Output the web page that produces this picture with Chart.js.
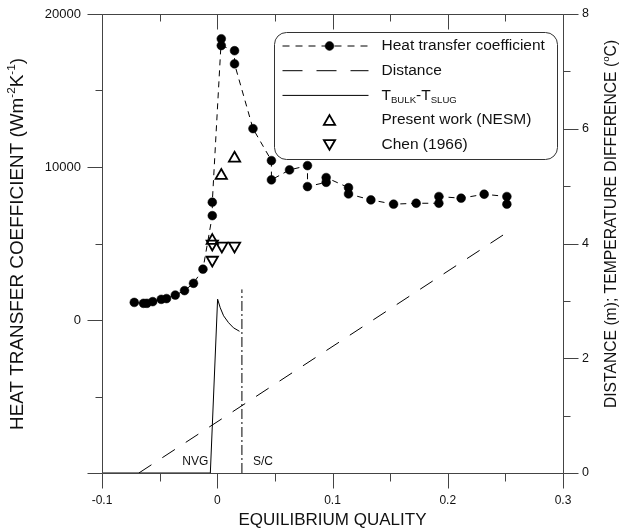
<!DOCTYPE html>
<html>
<head>
<meta charset="utf-8">
<script src="https://cdn.jsdelivr.net/npm/chart.js@4.4.0/dist/chart.umd.min.js"></script>
<style>
body { margin: 0; background: #fff; }
#wrap { width: 632px; height: 531px; }
</style>
</head>
<body>
<div id="wrap"><canvas id="chart" width="632" height="531"></canvas></div>
<script>
// ================= DATA =================
// heat transfer coefficient, in the order the dashed line joins them
const htcQuality = [-0.072, -0.064, -0.061, -0.056, -0.0486, -0.044, -0.0364, -0.0284, -0.0206, -0.0124,
                    -0.0043, -0.0043, 0.0035, 0.0035, 0.015, 0.015, 0.031, 0.047, 0.047, 0.0627,
                    0.0783, 0.0783, 0.0945, 0.0945, 0.1139, 0.1139, 0.1333, 0.153, 0.1726, 0.1923,
                    0.1923, 0.2116, 0.2316, 0.2513, 0.2513];
const htcValues = [1150, 1090, 1090, 1200, 1350, 1400, 1630, 1920, 2400, 3320,
                   6820, 7700, 18380, 17940, 17600, 16740, 12510, 10420, 9160, 9810,
                   10090, 8720, 9000, 9310, 8650, 8240, 7850, 7570, 7630, 7630,
                   8070, 7960, 8220, 8070, 7570];

const nesmQuality = [-0.0043, 0.0035, 0.015];
const nesmValues = [5190, 9440, 10570];

const chenQuality = [-0.0043, 0.004, 0.015, -0.0043];
const chenValues = [4970, 4840, 4840, 3920];

// distance along the channel (m), right axis
const distQuality = [-0.068, 0.252];
const distValues = [0, 4.2];

// T_BULK - T_SLUG (oC), right axis
const dtQuality = [-0.1, -0.006, 0.0003, 0.0026, 0.0055, 0.0098, 0.0141, 0.0193];
const dtValues = [0, 0, 3.03, 2.88, 2.74, 2.62, 2.53, 2.47];

// onset of net vapour generation and end of subcooled boiling
const nvgQuality = -0.006;
const scQuality = 0.0214;
const scLine = [0, 3.2];

// tick labels
const xTicks = [-0.1, 0, 0.1, 0.2, 0.3];
const xTickLabels = ["-0.1", "0", "0.1", "0.2", "0.3"];
const leftTicks = [0, 10000, 20000];
const leftTickLabels = ["0", "10000", "20000"];
const rightTicks = [0, 2, 4, 6, 8];
const rightTickLabels = ["0", "2", "4", "6", "8"];

// ================= HELPERS =================
const FONT = "'Liberation Sans', Arial, Helvetica, sans-serif";
Chart.defaults.font.family = FONT;

function pts(xs, ys) {
    return xs.map((x, i) => ({ x: x, y: ys[i] }));
}

function tickLabel(v, values, labels) {
    for (let i = 0; i < values.length; i++) {
        if (Math.abs(v - values[i]) < 1e-7 * Math.max(1, Math.abs(values[i]))) return labels[i];
    }
    return "";
}

// text with super/subscripts: parts = [[text, shift]], shift 1 = sup, -1 = sub
function richWidth(ctx, parts, size) {
    let w = 0;
    parts.forEach(p => {
        ctx.font = (p[1] ? size * 0.62 : size) + "px " + FONT;
        w += ctx.measureText(p[0]).width;
    });
    return w;
}
function drawRich(ctx, parts, size, x, y) {
    ctx.textBaseline = "middle";
    ctx.textAlign = "left";
    parts.forEach(p => {
        const s = p[1] ? size * 0.62 : size;
        ctx.font = s + "px " + FONT;
        const dy = p[1] === 1 ? -size * 0.33 : (p[1] === -1 ? size * 0.3 : 0);
        ctx.fillText(p[0], x, y + dy);
        x += ctx.measureText(p[0]).width;
    });
}

// ================= PLUGINS =================
const frameTicks = {
    id: "frameTicks",
    afterDraw(chart) {
        const ctx = chart.ctx, a = chart.chartArea, sc = chart.scales;
        const L = Math.round(a.left) + 0.5, R = Math.round(a.right) + 0.5;
        const T = Math.round(a.top) + 0.5, B = Math.round(a.bottom) + 0.5;
        ctx.save();
        ctx.strokeStyle = "#444";
        ctx.lineWidth = 1;
        ctx.beginPath();
        ctx.rect(L, T, R - L, B - T);
        sc.x.ticks.forEach(t => {
            const px = Math.round(sc.x.getPixelForValue(t.value)) + 0.5;
            const major = t.label !== "";
            ctx.moveTo(px, B); ctx.lineTo(px, B + (major ? 15 : 8));
            ctx.moveTo(px, T); ctx.lineTo(px, T + (major ? 15 : 7));
        });
        sc.y.ticks.forEach(t => {
            const py = Math.round(sc.y.getPixelForValue(t.value)) + 0.5;
            const major = t.value % 10000 === 0;
            ctx.moveTo(L, py); ctx.lineTo(L - (major ? 15 : 7), py);
        });
        sc.y2.ticks.forEach(t => {
            const py = Math.round(sc.y2.getPixelForValue(t.value)) + 0.5;
            const major = t.value % 2 === 0;
            ctx.moveTo(R, py); ctx.lineTo(R + (major ? 15 : 7), py);
        });
        ctx.stroke();

        // axis titles
        ctx.fillStyle = "#111";
        const xt = [["EQUILIBRIUM QUALITY", 0]];
        drawRich(ctx, xt, 17, (a.left + a.right) / 2 - richWidth(ctx, xt, 17) / 2, 520);

        const lt = [["HEAT TRANSFER COEFFICIENT (Wm", 0], ["-2", 1], ["K", 0], ["-1", 1], [")", 0]];
        ctx.save();
        ctx.translate(18, 244);
        ctx.rotate(-Math.PI / 2);
        drawRich(ctx, lt, 18.9, -richWidth(ctx, lt, 18.9) / 2, 0);
        ctx.restore();

        const rt = [["DISTANCE (m); TEMPERATURE DIFFERENCE (", 0], ["o", 1], ["C)", 0]];
        ctx.save();
        ctx.translate(612, 224);
        ctx.rotate(-Math.PI / 2);
        drawRich(ctx, rt, 15.7, -richWidth(ctx, rt, 15.7) / 2, 0);
        ctx.restore();

        // NVG and S/C markers
        ctx.font = "12px " + FONT;
        ctx.textBaseline = "middle";
        ctx.textAlign = "right";
        ctx.fillText("NVG", sc.x.getPixelForValue(nvgQuality) - 2, a.bottom - 11);
        ctx.textAlign = "left";
        ctx.fillText("S/C", sc.x.getPixelForValue(scQuality) + 11, a.bottom - 11);
        ctx.restore();
    }
};

const boxLegend = {
    id: "boxLegend",
    afterDraw(chart) {
        const ctx = chart.ctx, a = chart.chartArea;
        const bx = a.right - 288.5, by = a.top + 18.5, bw = 283, bh = 127, r = 12;
        ctx.save();
        ctx.strokeStyle = "#333";
        ctx.lineWidth = 1;
        ctx.fillStyle = "#fff";
        ctx.beginPath();
        ctx.roundRect(bx, by, bw, bh, r);
        ctx.fill();
        ctx.stroke();

        let row = 0;
        chart.data.datasets.forEach(ds => {
            if (ds.noLegend) return;
            const y = by + 13.5 + row * 24.7;
            row++;
            if (ds.showLine) {
                ctx.save();
                ctx.strokeStyle = "#000";
                ctx.lineWidth = 1;
                ctx.setLineDash(ds.legendDash || ds.borderDash || []);
                ctx.beginPath();
                ctx.moveTo(bx + 8, y);
                ctx.lineTo(bx + 94, y);
                ctx.stroke();
                ctx.restore();
            }
            if (ds.pointRadius > 0) {
                ctx.save();
                ctx.fillStyle = ds.pointBackgroundColor;
                ctx.strokeStyle = ds.pointBorderColor;
                ctx.lineWidth = ds.pointBorderWidth;
                Chart.helpers.drawPoint(ctx, {
                    pointStyle: ds.pointStyle || "circle",
                    rotation: ds.pointRotation || 0,
                    radius: ds.pointRadius,
                    borderWidth: ds.pointBorderWidth
                }, bx + 55, y + (ds.pointStyle === "triangle" ? (ds.pointRotation ? -1.5 : 1.5) : 0));
                ctx.restore();
            }
            ctx.fillStyle = "#111";
            drawRich(ctx, ds.labelParts || [[ds.label, 0]], 15.5, bx + 107, y);
        });
        ctx.restore();
    }
};

// keep Chart.js from adding the tick padding above/below the plot
function fitY(width) {
    return s => {
        s.width = width;
        s.paddingTop = 14;
        s.paddingBottom = 0;
    };
}

// ================= CHART =================
new Chart(document.getElementById("chart"), {
    type: "scatter",
    data: {
        datasets: [
            {
                label: "Heat transfer coefficient",
                data: pts(htcQuality, htcValues),
                yAxisID: "y",
                showLine: true,
                borderColor: "#000",
                borderWidth: 1,
                borderDash: [6, 5],
                legendDash: [7, 6],
                pointRadius: 4.4,
                pointBackgroundColor: "#000",
                pointBorderColor: "#000",
                pointBorderWidth: 0.5
            },
            {
                label: "Distance",
                data: pts(distQuality, distValues),
                yAxisID: "y2",
                showLine: true,
                borderColor: "#000",
                borderWidth: 1,
                borderDash: [15, 13],
                legendDash: [20, 14],
                pointRadius: 0
            },
            {
                label: "TBULK-TSLUG",
                labelParts: [["T", 0], ["BULK", -1], ["-T", 0], ["SLUG", -1]],
                data: pts(dtQuality, dtValues),
                yAxisID: "y2",
                showLine: true,
                borderColor: "#000",
                borderWidth: 1,
                pointRadius: 0
            },
            {
                label: "Present work (NESM)",
                data: pts(nesmQuality, nesmValues),
                yAxisID: "y",
                pointStyle: "triangle",
                pointRadius: 6.5,
                pointBackgroundColor: "rgba(0,0,0,0)",
                pointBorderColor: "#000",
                pointBorderWidth: 1.8
            },
            {
                label: "Chen (1966)",
                data: pts(chenQuality, chenValues),
                yAxisID: "y",
                pointStyle: "triangle",
                pointRotation: 180,
                pointRadius: 6.5,
                pointBackgroundColor: "rgba(0,0,0,0)",
                pointBorderColor: "#000",
                pointBorderWidth: 1.8
            },
            {
                label: "S/C",
                noLegend: true,
                data: pts([scQuality, scQuality], scLine),
                yAxisID: "y2",
                showLine: true,
                borderColor: "#000",
                borderWidth: 1,
                borderDash: [10, 3, 2, 3],
                pointRadius: 0
            }
        ]
    },
    options: {
        responsive: false,
        animation: false,
        layout: { padding: 0 },
        plugins: {
            legend: { display: false },
            tooltip: { enabled: false }
        },
        scales: {
            x: {
                type: "linear",
                min: -0.1,
                max: 0.3,
                afterFit: s => { s.height = 58; },
                grid: { display: false, drawTicks: false },
                border: { display: false },
                ticks: {
                    stepSize: 0.05,
                    autoSkip: false,
                    maxRotation: 0,
                    padding: 20,
                    color: "#111",
                    font: { size: 12 },
                    callback: v => tickLabel(v, xTicks, xTickLabels)
                }
            },
            y: {
                position: "left",
                min: -10000,
                max: 20000,
                afterFit: fitY(102),
                grid: { display: false, drawTicks: false },
                border: { display: false },
                ticks: {
                    stepSize: 5000,
                    autoSkip: false,
                    padding: 21,
                    color: "#111",
                    font: { size: 13 },
                    callback: v => tickLabel(v, leftTicks, leftTickLabels)
                }
            },
            y2: {
                position: "right",
                min: 0,
                max: 8,
                afterFit: fitY(69),
                grid: { display: false, drawTicks: false },
                border: { display: false },
                ticks: {
                    stepSize: 1,
                    autoSkip: false,
                    padding: 19,
                    color: "#111",
                    font: { size: 12.5 },
                    callback: v => tickLabel(v, rightTicks, rightTickLabels)
                }
            }
        }
    },
    plugins: [frameTicks, boxLegend]
});
</script>
</body>
</html>
